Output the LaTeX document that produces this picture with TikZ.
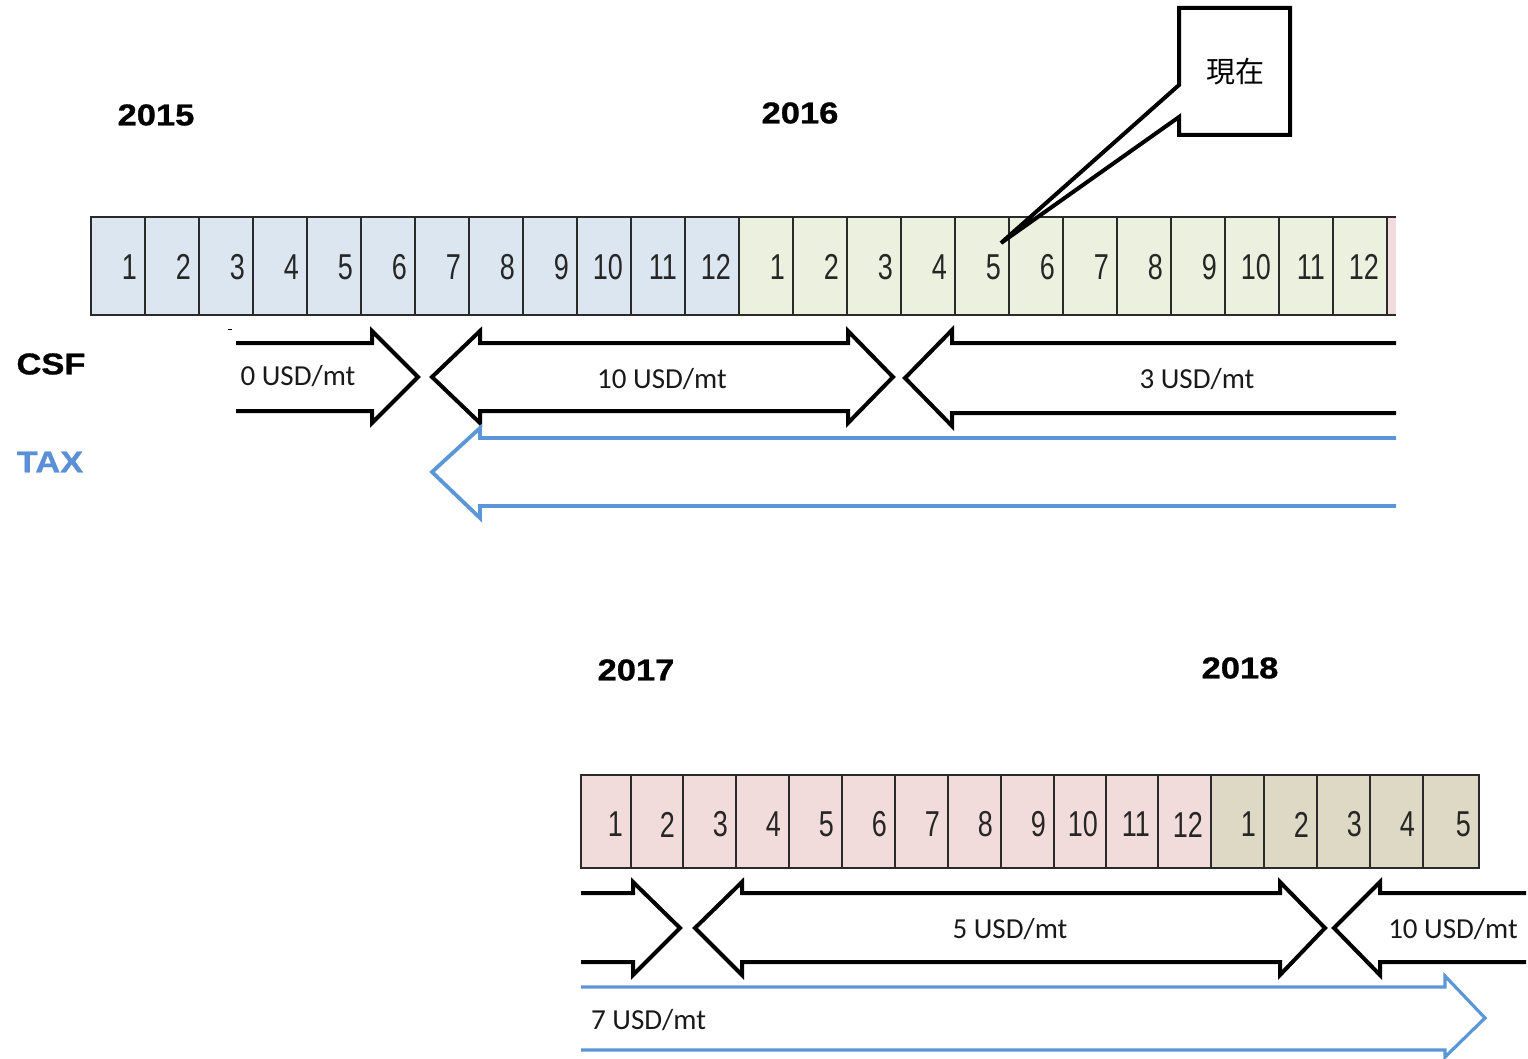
\documentclass[tikz,border=0pt]{standalone}
\usepackage{fontspec}
\setmainfont{Liberation Sans}
\newfontfamily\cjkfont{Noto Sans CJK JP}
\newfontfamily\lblfont{Carlito}
\newfontfamily\cellfont[FakeStretch=0.75]{Liberation Sans}
\newfontfamily\yearfont[FakeStretch=1.15,FakeBold=1]{Liberation Sans Bold}
\definecolor{cA}{HTML}{DCE6F1}
\definecolor{cB}{HTML}{EBF1DE}
\definecolor{cC}{HTML}{F2DCDB}
\definecolor{cD}{HTML}{DDD9C4}
\definecolor{taxblue}{HTML}{5B8FD6}
\definecolor{arrblue}{HTML}{5B96D6}
\definecolor{cellline}{HTML}{2A2A2A}
\tikzset{
  cellbox/.style={draw=cellline, line width=1.6pt, inner sep=0pt, outer sep=0pt, anchor=north west},
  num/.style={font=\cellfont\fontsize{36}{36}\selectfont, inner sep=0pt, anchor=east, text=black!85},
  year/.style={font=\yearfont\fontsize{30}{30}\selectfont, inner sep=0pt},
  lbl/.style={font=\lblfont\fontsize{29}{29}\selectfont, inner sep=0pt, text=black!90},
  fatarrow/.style={draw=black, line width=4pt, miter limit=10},
  taxarrow/.style={draw=arrblue, line width=3.8pt, miter limit=10},
}
\begin{document}
\begin{tikzpicture}[x=1pt,y=-1pt]
\useasboundingbox (0,0) rectangle (1528,1059);
% years
\node[year] (y2015) at (156,115) {2015};
\node[year] (y2016) at (800,113) {2016};
\node[year] (y2017) at (636,670) {2017};
\node[year] (y2018) at (1240,668) {2018};
\node[year] (csf) at (51,364) {CSF};
\node[year, text=taxblue] (tax) at (50,462) {TAX};
% top cells
\fill[cC] (1387,217) rectangle (1396,315);
\draw[cellline, line width=1.6pt] (1387,217) -- (1396,217) (1387,315) -- (1396,315);
\foreach \i in {0,...,23} {
  \pgfmathtruncatemacro\m{mod(\i,12)+1}
  \pgfmathsetmacro\xa{91+54*\i}
  \ifnum\i<12 \def\cc{cA}\else\def\cc{cB}\fi
  \node[cellbox, fill=\cc, minimum width=54pt, minimum height=98pt] (t\i) at (\xa,217) {};
  \node[num] (tn\i) at ([xshift=-8pt,yshift=-1pt]t\i.east) {\m};
}
% bottom cells
\foreach \xa/\xb/\m/\cc [count=\k] in {581/631/1/cC,631/683/2/cC,683/736/3/cC,736/789/4/cC,789/842/5/cC,842/895/6/cC,895/948/7/cC,948/1001/8/cC,1001/1054/9/cC,1054/1106/10/cC,1106/1158/11/cC,1158/1211/12/cC,1211/1264/1/cD,1264/1317/2/cD,1317/1370/3/cD,1370/1423/4/cD,1423/1479/5/cD} {
  \pgfmathsetmacro\w{\xb-\xa}
  \node[cellbox, fill=\cc, minimum width=\w pt, minimum height=93pt] (b\k) at (\xa,775) {};
  \node[num] (bn\k) at ([xshift=-8pt,yshift=-3pt]b\k.east) {\m};
}
% callout
\draw[line width=4pt, fill=white, line join=miter] (1179,8) -- (1290,8) -- (1290,135) -- (1179,135) -- (1179,117) -- (1001,243) -- (1179,85) -- cycle;
\node[font=\cjkfont\fontsize{29}{29}\selectfont, inner sep=0pt] (now) at (1235,72) {現在};
% top arrows
\draw[line width=1pt] (228,329) -- (232,329);
\draw[fatarrow] (236,343) -- (372,343) -- (372,331) -- (418,377) -- (372,423) -- (372,411) -- (236,411);
\draw[fatarrow] (432,377) -- (480,331) -- (480,343) -- (848,343) -- (848,331) -- (893,377) -- (848,423) -- (848,411) -- (480,411) -- (480,423) -- cycle;
\draw[fatarrow] (1396,343) -- (952,343) -- (952,330) -- (905,378) -- (952,426) -- (952,413) -- (1396,413);
\draw[taxarrow] (1396,438) -- (480,438) -- (480,428) -- (432,472) -- (480,518) -- (480,506) -- (1396,506);
\node[lbl] (l0) at (298,376) {0 USD/mt};
\node[lbl] (l10) at (662,379) {10 USD/mt};
\node[lbl] (l3) at (1197,379) {3 USD/mt};
% bottom arrows
\draw[fatarrow] (581,893) -- (633,893) -- (633,882) -- (680,928) -- (633,975) -- (633,962) -- (581,962);
\draw[fatarrow] (695,928) -- (742,882) -- (742,893) -- (1280,893) -- (1280,882) -- (1325,928) -- (1280,975) -- (1280,962) -- (742,962) -- (742,975) -- cycle;
\draw[fatarrow] (1526,893) -- (1380,893) -- (1380,882) -- (1334,928) -- (1380,975) -- (1380,962) -- (1526,962);
\draw[taxarrow, line width=3.2pt] (581,987) -- (1445,987) -- (1445,976) -- (1485,1018) -- (1445,1057) -- (1445,1050) -- (581,1050);
\node[lbl] (l5) at (1010,929) {5 USD/mt};
\node[lbl] (l10b) at (1453,929) {10 USD/mt};
\node[lbl, anchor=west] (l7) at (591,1020) {7 USD/mt};
\end{tikzpicture}
\end{document}
